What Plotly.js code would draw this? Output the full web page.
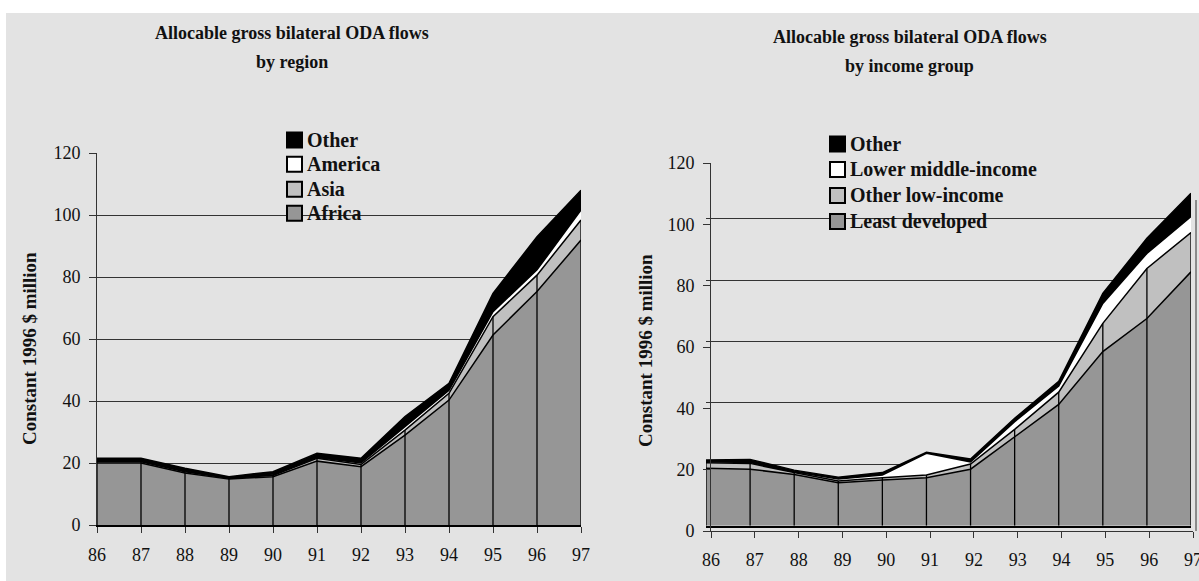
<!DOCTYPE html>
<html>
<head>
<meta charset="utf-8">
<script src="https://cdn.plot.ly/plotly-3.0.1.min.js"></script>
<style>
  html, body { margin: 0; padding: 0; background: #ffffff; }
  #chart { width: 1199px; height: 581px; }
</style>
</head>
<body>
<div id="chart"></div>
<script>
// ---- Data (constant 1996 $ million) ----
const years = [86, 87, 88, 89, 90, 91, 92, 93, 94, 95, 96, 97];
const yearLabels = ['86', '87', '88', '89', '90', '91', '92', '93', '94', '95', '96', '97'];
const yTicks = [0, 20, 40, 60, 80, 100, 120];

// By region (stacked bottom to top)
const regionNames = ['Africa', 'Asia', 'America', 'Other'];
const africa  = [20.0, 20.0, 16.8, 14.8, 15.6, 20.6, 18.8, 29.0, 40.3, 61.3, 75.3, 91.9];
const asia    = [0.4, 0.4, 0.4, 0.3, 0.4, 0.9, 0.7, 1.6, 2.2, 5.9, 5.3, 6.5];
const america = [0.2, 0.2, 0.2, 0.1, 0.2, 0.3, 0.5, 1.1, 1.0, 1.6, 1.7, 3.2];
const regionOther = [0.9, 0.9, 0.9, 0.4, 1.0, 1.3, 1.5, 3.3, 2.2, 5.9, 10.7, 6.4];

// By income group (stacked bottom to top)
const incomeNames = ['Least developed', 'Other low-income', 'Lower middle-income', 'Other'];
const leastDeveloped = [18.7, 18.4, 16.7, 14.0, 14.9, 15.6, 18.4, 29.0, 39.5, 56.7, 67.5, 82.7];
const otherLowIncome = [1.8, 1.9, 0.6, 0.6, 0.7, 0.9, 1.7, 2.4, 4.0, 9.2, 16.3, 12.8];
const lowerMiddle    = [0.3, 0.3, 0.3, 0.6, 0.9, 7.1, 0.7, 2.5, 2.0, 6.5, 4.9, 5.2];
const incomeOther    = [0.6, 1.0, 0.5, 0.6, 0.8, 0.3, 0.9, 1.1, 1.5, 3.3, 4.9, 7.6];

const titleRegion = ['Allocable gross bilateral ODA flows', 'by region'];
const titleIncome = ['Allocable gross bilateral ODA flows', 'by income group'];
const yTitle = 'Constant 1996 $ million';

// ---- Styling ----
const layerColors = ['#969696', '#c0c0c0', '#ffffff', '#000000'];
const FONT = "'Liberation Serif', serif";
const W = 1199, H = 581;
const px = x => x / W;
const py = y => 1 - y / H;

function stackTraces(names, series, group, xa, ya) {
  return series.map((vals, i) => ({
    type: 'scatter', mode: 'lines', x: years, y: vals,
    name: names[i], stackgroup: group,
    xaxis: xa, yaxis: ya,
    line: { color: '#000000', width: 1.5, shape: 'linear' },
    fillcolor: layerColors[i],
    showlegend: false, hoverinfo: 'x+y+name'
  }));
}

// vertical divider lines at each year, through the two lowest layers
function dividerTrace(a, b, xa, ya) {
  const xs = [], ys = [];
  years.forEach((yr, i) => { xs.push(yr, yr, null); ys.push(0, a[i] + b[i], null); });
  return {
    type: 'scatter', mode: 'lines', x: xs, y: ys, xaxis: xa, yaxis: ya,
    line: { color: '#000000', width: 1.3 }, showlegend: false, hoverinfo: 'skip'
  };
}

const traces = [
  ...stackTraces(regionNames, [africa, asia, america, regionOther], 'region', 'x', 'y'),
  dividerTrace(africa, asia, 'x', 'y'),
  ...stackTraces(incomeNames, [leastDeveloped, otherLowIncome, lowerMiddle, incomeOther], 'income', 'x2', 'y2'),
  dividerTrace(leastDeveloped, otherLowIncome, 'x2', 'y2'),
  { type: 'scatter', mode: 'markers', x: [], y: [], xaxis: 'x3', yaxis: 'y3', showlegend: false, hoverinfo: 'skip' }
];

const tickFont = { family: FONT, size: 18, color: '#111111' };

const labelXAxis = (domain, anchor, lineColor, lineWidth) => ({
  domain, anchor, range: [86, 97], tickvals: years, ticktext: yearLabels,
  ticks: 'outside', ticklen: 6, tickcolor: '#333333', tickwidth: 1,
  showline: true, linecolor: lineColor, linewidth: lineWidth,
  showgrid: false, zeroline: false, tickfont: tickFont, ticklabelstandoff: 6,
  ticklabeloverflow: 'allow', fixedrange: true
});
const labelYAxis = (domain, anchor, grid) => ({
  domain, anchor, range: [0, 120], tickvals: yTicks,
  ticks: 'outside', ticklen: 7, tickcolor: '#333333', tickwidth: 1,
  showline: true, linecolor: '#333333', linewidth: 1,
  showgrid: grid, gridcolor: '#333333', gridwidth: 1,
  zeroline: false, tickfont: tickFont, ticklabelstandoff: 5, fixedrange: true
});

const annotations = [];
function addText(text, x, y, size, opts) {
  annotations.push(Object.assign({
    text, xref: 'paper', yref: 'paper', x: px(x), y: py(y),
    xanchor: 'center', yanchor: 'middle', showarrow: false,
    font: { family: FONT, size, color: '#111111' }
  }, opts || {}));
}
addText('<b>' + titleRegion[0] + '</b>', 291.7, 33.5, 18);
addText('<b>' + titleRegion[1] + '</b>', 291.7, 62, 18);
addText('<b>' + titleIncome[0] + '</b>', 910, 37, 18);
addText('<b>' + titleIncome[1] + '</b>', 910, 66.5, 18);
addText('<b>' + yTitle + '</b>', 29, 349, 19, { textangle: -90 });
addText('<b>' + yTitle + '</b>', 645, 351, 19, { textangle: -90 });

const shapes = [
  { type: 'rect', xref: 'paper', yref: 'paper', x0: px(6), x1: 1, y0: 0, y1: py(13),
    fillcolor: '#e3e3e3', line: { width: 0 }, layer: 'below' },
  { type: 'line', xref: 'paper', yref: 'paper', x0: px(1196), x1: px(1196), y0: py(200), y1: py(531),
    line: { color: '#333333', width: 1 } }
];

// legend keys: topmost layer first
function addLegend(names, boxLeft, textLeft, rows) {
  for (let k = 0; k < 4; k++) {
    const idx = 3 - k;
    const cy = rows[k];
    shapes.push({ type: 'rect', xref: 'paper', yref: 'paper',
      x0: px(boxLeft), x1: px(boxLeft + 15), y0: py(cy + 7.5), y1: py(cy - 7.5),
      fillcolor: layerColors[idx], line: { color: '#000000', width: 2 } });
    addText('<b>' + names[idx] + '</b>', textLeft, cy, 20, { xanchor: 'left' });
  }
}
addLegend(regionNames, 287, 305, [140, 164.3, 189.3, 213.3]);
addLegend(incomeNames, 830, 848, [144, 169.5, 195.5, 221.5]);

const layout = {
  width: W, height: H,
  margin: { l: 0, r: 0, t: 0, b: 0 },
  paper_bgcolor: '#ffffff', plot_bgcolor: 'rgba(0,0,0,0)',
  showlegend: false,
  xaxis: labelXAxis([px(97), px(581)], 'y', '#000000', 2),
  yaxis: labelYAxis([py(525), py(153)], 'x', true),
  // income chart: data area
  xaxis2: { domain: [px(706), px(1191)], anchor: 'y2', range: [86, 97],
    showticklabels: false, ticks: '', showgrid: false, zeroline: false,
    showline: true, linecolor: '#000000', linewidth: 2, fixedrange: true },
  yaxis2: { domain: [py(525.7), py(157.3)], anchor: 'x2', range: [0, 120], tickvals: yTicks,
    showticklabels: false, ticks: '', showgrid: true, gridcolor: '#333333', gridwidth: 1,
    zeroline: false, showline: false, fixedrange: true },
  // income chart: axis frame with ticks and labels
  xaxis3: labelXAxis([px(711), px(1193)], 'y3', '#333333', 1),
  yaxis3: labelYAxis([py(531), py(163)], 'x3', false),
  annotations, shapes
};

Plotly.newPlot('chart', traces, layout, { displayModeBar: false, staticPlot: true });
</script>
</body>
</html>
